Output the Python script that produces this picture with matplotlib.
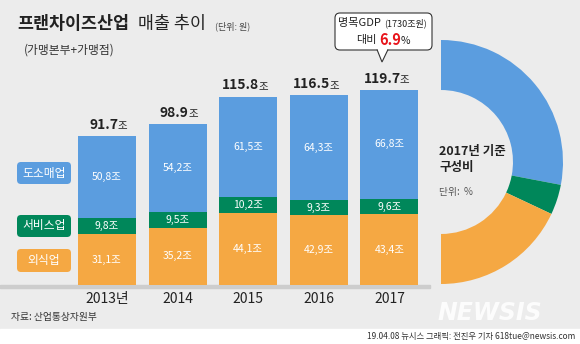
import matplotlib.pyplot as plt
from matplotlib.patches import FancyBboxPatch, Rectangle, Polygon

plt.rcParams['font.family'] = ['Noto Sans CJK KR', 'DejaVu Sans']

W, H = 580, 344
BG = "#ececec"
BLUE = "#5b9ddf"
GREEN = "#00875a"
ORANGE = "#f5a843"

years = ["2013년", "2014", "2015", "2016", "2017"]
food = [31.1, 35.2, 44.1, 42.9, 43.4]
service = [9.8, 9.5, 10.2, 9.3, 9.6]
retail = [50.8, 54.2, 61.5, 64.3, 66.8]
totals = ["91.7", "98.9", "115.8", "116.5", "119.7"]
totals_val = [91.7, 98.9, 115.8, 116.5, 119.7]
food_lbl = ["31,1조", "35,2조", "44,1조", "42,9조", "43,4조"]
service_lbl = ["9,8조", "9,5조", "10,2조", "9,3조", "9,6조"]
retail_lbl = ["50,8조", "54,2조", "61,5조", "64,3조", "66,8조"]

share = [56, 8, 36]
share_lbl = ["56", "8", "36"]

fig = plt.figure(figsize=(W / 100, H / 100), dpi=100, facecolor=BG)

# overlay in pixel coords for texts / decoration
ov = fig.add_axes([0, 0, 1, 1], zorder=0)
ov.set_xlim(0, W)
ov.set_ylim(H, 0)
ov.axis("off")
ov.add_patch(Rectangle((0, 329), W, 15, color="white", zorder=0))
ov.add_patch(Rectangle((0, 285), 430, 3, color="#cdcdcd", zorder=1))

# bars
step = 70.6
left = 107 - 1.5 * step
bottom = 285
ymax = 130
scale = 1.627
axb = fig.add_axes([left / W, (H - bottom) / H, 6 * step / W, ymax * scale / H], zorder=1)
axb.set_xlim(-1.5, 4.5)
axb.set_ylim(0, ymax)
axb.axis("off")
x = list(range(len(years)))
bw = 0.82
c1 = axb.bar(x, food, bw, color=ORANGE)
c2 = axb.bar(x, service, bw, bottom=food, color=GREEN)
base2 = [a + b for a, b in zip(food, service)]
c3 = axb.bar(x, retail, bw, bottom=base2, color=BLUE)
for c, lbls in [(c1, food_lbl), (c2, service_lbl), (c3, retail_lbl)]:
    axb.bar_label(c, labels=lbls, label_type="center", color="white", fontsize=7.5)
for i, (t, v) in enumerate(zip(totals, totals_val)):
    axb.annotate(t, (i, v), xytext=(8, 3), textcoords="offset points", ha="right", va="bottom",
                 fontsize=10, fontweight="bold", color="#222222")
    axb.annotate("조", (i, v), xytext=(7.5, 3.3), textcoords="offset points", ha="left", va="bottom",
                 fontsize=7.5, color="#222222")
for i, y in enumerate(years):
    ov.text(107 + i * step, 299, y, ha="center", va="center", fontsize=10, color="#222222")

# donut (right half only)
R = 122
cx, cy = 441, 162
axp = fig.add_axes([(cx - R) / W, (H - cy - R) / H, 2 * R / W, 2 * R / H], zorder=2)
axp.pie(share + [100], colors=[BLUE, GREEN, ORANGE, "none"], startangle=90,
        counterclock=False, radius=1, wedgeprops=dict(width=0.41, linewidth=0))
axp.set_xlim(-1, 1)
axp.set_ylim(-1, 1)
axp.axis("off")

ov.text(509, 110, "56", ha="left", va="center", fontsize=14, fontweight="bold", color="white", zorder=5)
ov.text(532, 112, "%", ha="left", va="center", fontsize=8.5, color="white", zorder=5)
ov.text(536, 195, share_lbl[1], ha="center", va="center", fontsize=15, fontweight="bold", color="white", zorder=5)
ov.text(491, 248, share_lbl[2], ha="center", va="center", fontsize=15, fontweight="bold", color="white", zorder=5)

ov.text(439, 152, "2017년 기준", ha="left", va="center", fontsize=9, fontweight="bold", color="#222222")
ov.text(439, 168, "구성비", ha="left", va="center", fontsize=9, fontweight="bold", color="#222222")
ov.text(439, 192, "단위:  %", ha="left", va="center", fontsize=7, color="#555555")

# title
ov.text(17, 24, "프랜차이즈산업", ha="left", va="center", fontsize=12.5, fontweight="bold", color="#222222")
ov.text(138, 24, "매출 추이", ha="left", va="center", fontsize=12.5, color="#222222")
ov.text(215, 26, "(단위: 원)", ha="left", va="center", fontsize=6.5, color="#444444")
ov.text(24, 50, "(가맹본부+가맹점)", ha="left", va="center", fontsize=8.5, color="#333333")

# legend boxes
for (y0, h, lab, col) in [(162, 22, "도소매업", BLUE), (215, 22, "서비스업", GREEN), (249, 23, "외식업", ORANGE)]:
    ov.add_patch(FancyBboxPatch((17, y0), 54, h, boxstyle="round,pad=0,rounding_size=4",
                                facecolor=col, edgecolor="none", zorder=2))
    ov.text(44, y0 + h / 2, lab, ha="center", va="center", fontsize=8.5, color="white", zorder=3)

# callout
ov.add_patch(FancyBboxPatch((335, 13), 97, 37, boxstyle="round,pad=0,rounding_size=5",
                            facecolor="white", edgecolor="#333333", linewidth=0.8, zorder=3))
ov.add_patch(Polygon([(377, 49.5), (382, 62), (388, 49.5)], closed=False, facecolor="white",
                     edgecolor="#333333", linewidth=0.8, zorder=4))
ov.add_patch(Rectangle((377.6, 48), 9.8, 2.2, facecolor="white", edgecolor="none", zorder=5))
ov.text(338, 23, "명목GDP", ha="left", va="center", fontsize=8, color="#222222", zorder=6)
ov.text(384, 23.5, "(1730조원)", ha="left", va="center", fontsize=6.5, color="#222222", zorder=6)
ov.text(356, 40, "대비", ha="left", va="center", fontsize=8, color="#222222", zorder=6)
ov.text(379, 40, "6.9", ha="left", va="center", fontsize=10.5, fontweight="bold", color="#e8141b", zorder=6)
ov.text(401, 41, "%", ha="left", va="center", fontsize=7.5, color="#222222", zorder=6)

# footer
ov.text(11, 317, "자료: 산업통상자원부", ha="left", va="center", fontsize=7, color="#333333")
ov.text(490, 313, "NEWSIS", ha="center", va="center", fontsize=17, fontweight="bold", style="italic",
        family="DejaVu Sans", color="white", alpha=0.85, zorder=3)
ov.text(575, 337, "19.04.08 뉴시스 그래픽: 전진우 기자 618tue@newsis.com", ha="right", va="center",
        fontsize=6, color="#333333", zorder=3)

fig.savefig("out.png", dpi=100, facecolor=BG)
